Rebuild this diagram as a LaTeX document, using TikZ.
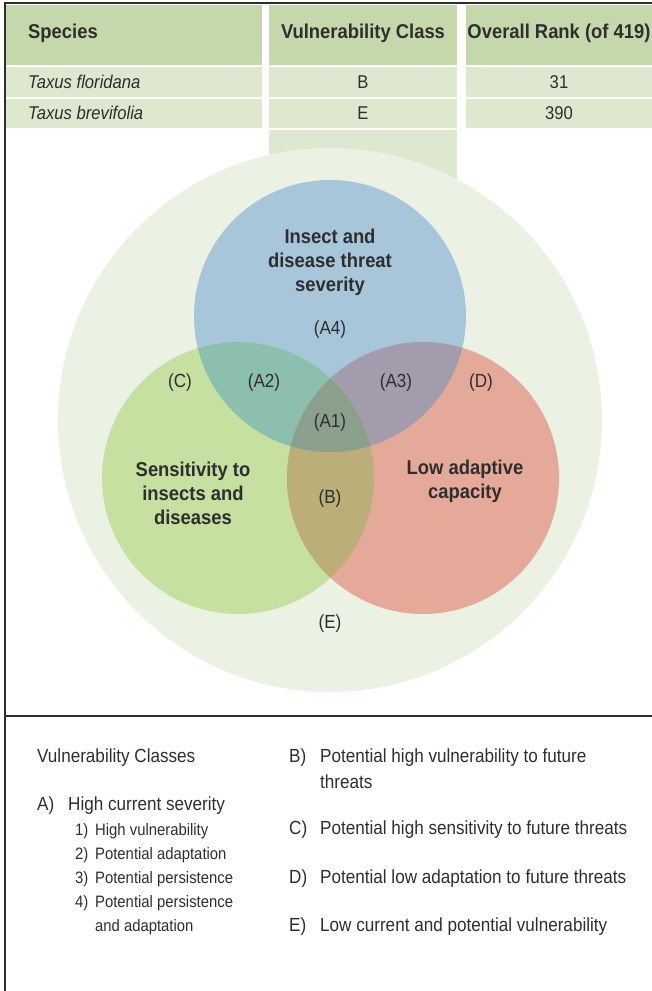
\documentclass[tikz,border=0pt]{standalone}
\usepackage{fontspec}
\setmainfont{Liberation Sans}[FakeStretch=0.9, BoldFeatures={FakeStretch=0.92}]

\definecolor{headgreen}{HTML}{C5D8AB}
\definecolor{rowgreen}{HTML}{DDE8CF}
\definecolor{outergreen}{HTML}{EBF1E3}
\definecolor{threatblue}{HTML}{A8C6DA}
\definecolor{sensgreen}{HTML}{C6E0A2}
\definecolor{lowred}{HTML}{E5A99A}
\definecolor{mixAtwo}{HTML}{8CBFAE}
\definecolor{mixAthree}{HTML}{A39CAD}
\definecolor{mixB}{HTML}{BBAE78}
\definecolor{mixAone}{HTML}{8AA08D}
\definecolor{inkgray}{HTML}{2E2E2E}

\tikzset{
  headtxt/.style={font=\fontsize{20}{22}\selectfont\bfseries, text=inkgray, inner sep=0pt},
  rowtxt/.style={font=\fontsize{18.5}{20}\selectfont, text=inkgray, inner sep=0pt},
  venntxt/.style={font=\fontsize{20}{24}\selectfont\bfseries, text=inkgray, align=center, inner sep=0pt},
  regtxt/.style={font=\fontsize{19}{20}\selectfont, text=inkgray, inner sep=0pt},
  legtxt/.style={font=\fontsize{19}{24}\selectfont, text=inkgray, anchor=west, inner sep=0pt},
  subtxt/.style={font=\fontsize{16.5}{24}\selectfont, text=inkgray, anchor=west, inner sep=0pt}
}

\begin{document}
\begin{tikzpicture}[x=1pt,y=-1pt]
    % Picture size
    \useasboundingbox (0,0) rectangle (652,991);
    \def\vr{136pt}

    % Table cells
    \fill[headgreen] (6,5) rectangle (262,65);
    \fill[headgreen] (269,5) rectangle (457,65);
    \fill[headgreen] (466,5) rectangle (652,65);
    \foreach \ytop/\ybot in {67/97, 99/128} {
        \fill[rowgreen] (6,\ytop) rectangle (262,\ybot);
        \fill[rowgreen] (269,\ytop) rectangle (457,\ybot);
        \fill[rowgreen] (466,\ytop) rectangle (652,\ybot);
    }
    \fill[rowgreen] (269,130) rectangle (457,180);

    % Venn circles
    \coordinate (outer) at (330,420);
    \coordinate (threat) at (330,316);
    \coordinate (sens) at (238,478);
    \coordinate (low) at (423,478);
    \fill[outergreen] (outer) circle[radius=272pt];
    \fill[threatblue] (threat) circle[radius=\vr];
    \fill[sensgreen] (sens) circle[radius=\vr];
    \fill[lowred] (low) circle[radius=\vr];
    \begin{scope}
        \clip (threat) circle[radius=\vr];
        \fill[mixAtwo] (sens) circle[radius=\vr];
        \fill[mixAthree] (low) circle[radius=\vr];
    \end{scope}
    \begin{scope}
        \clip (sens) circle[radius=\vr];
        \fill[mixB] (low) circle[radius=\vr];
        \clip (low) circle[radius=\vr];
        \fill[mixAone] (threat) circle[radius=\vr];
    \end{scope}

    % Frame
    \draw[inkgray, line width=1.2pt] (652,3) -- (5,3) -- (5,991);
    \draw[inkgray, line width=1.2pt] (5,716) -- (652,716);

    % Table text
    \node[headtxt, anchor=west] (hspecies) at (28,33) {Species};
    \node[headtxt] (hclass) at (363,33) {Vulnerability Class};
    \node[headtxt] (hrank) at (559,33) {Overall Rank (of 419)};
    \node[rowtxt, anchor=west] (sflor) at (28,82) {\itshape Taxus floridana};
    \node[rowtxt] (cflor) at (363,82) {B};
    \node[rowtxt] (rflor) at (559,82) {31};
    \node[rowtxt, anchor=west] (sbrev) at (28,113) {\itshape Taxus brevifolia};
    \node[rowtxt] (cbrev) at (363,113) {E};
    \node[rowtxt] (rbrev) at (559,113) {390};

    % Venn labels
    \node[venntxt] (lthreat) at (330,262) {Insect and\\disease threat\\severity};
    \node[venntxt] (lsens) at (193,493) {Sensitivity to\\insects and\\diseases};
    \node[venntxt] (llow) at (465,481) {Low adaptive\\capacity};
    \node[regtxt] (rA4) at (330,330) {(A4)};
    \node[regtxt] (rC) at (180,383) {(C)};
    \node[regtxt] (rA2) at (264,383) {(A2)};
    \node[regtxt] (rA3) at (396,383) {(A3)};
    \node[regtxt] (rD) at (481,383) {(D)};
    \node[regtxt] (rA1) at (330,423) {(A1)};
    \node[regtxt] (rB) at (330,499) {(B)};
    \node[regtxt] (rE) at (330,624) {(E)};

    % Legend
    \node[legtxt] (legtitle) at (37,758) {Vulnerability Classes};
    \node[legtxt] (keyA) at (37,806) {A)};
    \node[legtxt] (txtA) at (68,806) {High current severity};
    \foreach \n/\yy/\txt in {1/831/High vulnerability, 2/855/Potential adaptation,
                            3/879/Potential persistence, 4/903/Potential persistence} {
        \node[subtxt] (key\n) at (75,\yy) {\n)};
        \node[subtxt] (sub\n) at (95,\yy) {\txt};
    }
    \node[subtxt] (sub4b) at (95,927) {and adaptation};
    \node[legtxt] (keyB) at (289,758) {B)};
    \node[legtxt] (txtB) at (320,758) {Potential high vulnerability to future};
    \node[legtxt] (txtBb) at (320,782) {threats};
    \node[legtxt] (keyC) at (289,830) {C)};
    \node[legtxt] (txtC) at (320,830) {Potential high sensitivity to future threats};
    \node[legtxt] (keyD) at (289,879) {D)};
    \node[legtxt] (txtD) at (320,879) {Potential low adaptation to future threats};
    \node[legtxt] (keyE) at (289,927) {E)};
    \node[legtxt] (txtE) at (320,927) {Low current and potential vulnerability};
\end{tikzpicture}
\end{document}
